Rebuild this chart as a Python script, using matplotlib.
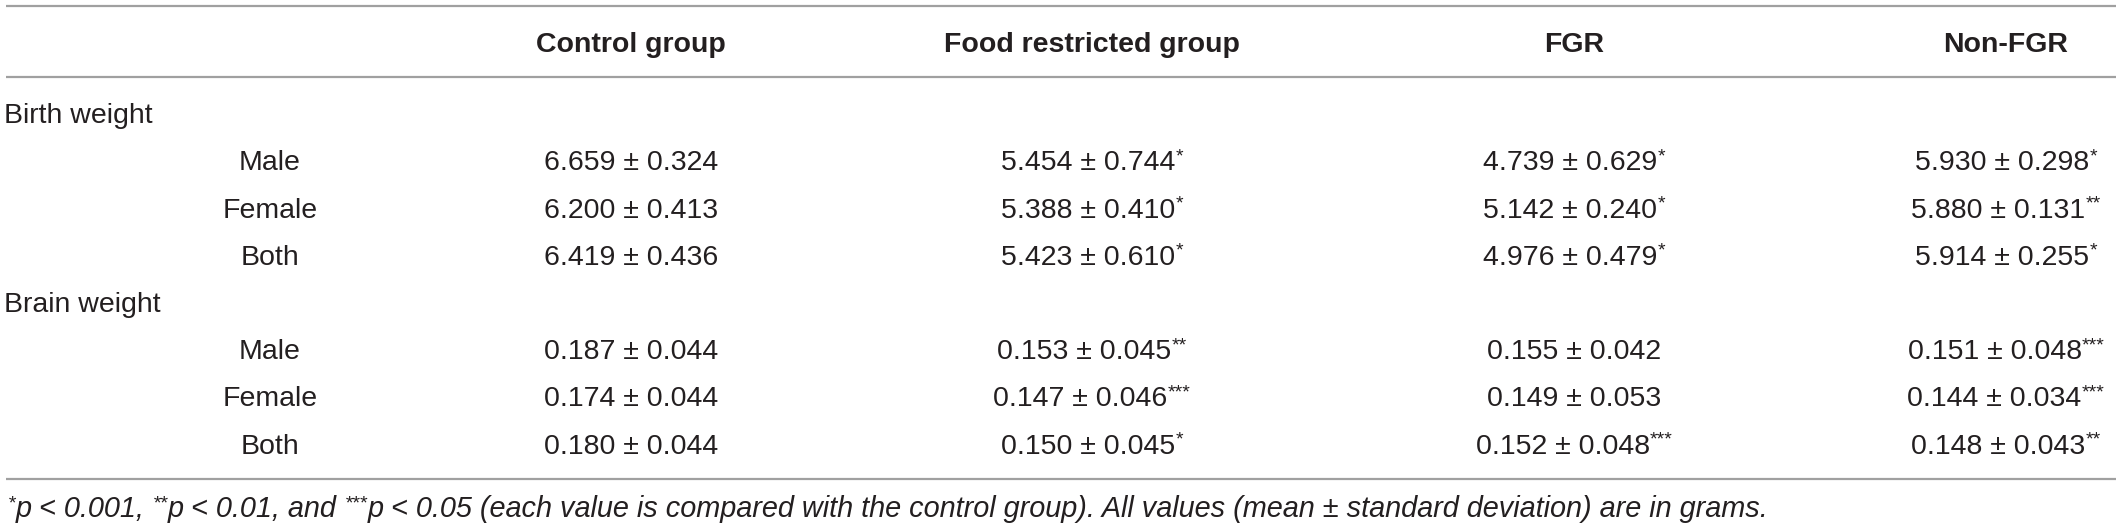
import matplotlib
matplotlib.use("Agg")
import matplotlib.pyplot as plt

plt.rcParams['font.family'] = ['Liberation Sans', 'DejaVu Sans']

# ---- data ----
columns = ["Control group", "Food restricted group", "FGR", "Non-FGR"]
sections = ["Birth weight", "Brain weight"]
sexes = ["Male", "Female", "Both"]

birth_control_mean = [6.659, 6.200, 6.419]
birth_control_sd = [0.324, 0.413, 0.436]
birth_control_sig = ["", "", ""]
birth_food_mean = [5.454, 5.388, 5.423]
birth_food_sd = [0.744, 0.410, 0.610]
birth_food_sig = ["*", "*", "*"]
birth_fgr_mean = [4.739, 5.142, 4.976]
birth_fgr_sd = [0.629, 0.240, 0.479]
birth_fgr_sig = ["*", "*", "*"]
birth_nonfgr_mean = [5.930, 5.880, 5.914]
birth_nonfgr_sd = [0.298, 0.131, 0.255]
birth_nonfgr_sig = ["*", "**", "*"]

brain_control_mean = [0.187, 0.174, 0.180]
brain_control_sd = [0.044, 0.044, 0.044]
brain_control_sig = ["", "", ""]
brain_food_mean = [0.153, 0.147, 0.150]
brain_food_sd = [0.045, 0.046, 0.045]
brain_food_sig = ["**", "***", "*"]
brain_fgr_mean = [0.155, 0.149, 0.152]
brain_fgr_sd = [0.042, 0.053, 0.048]
brain_fgr_sig = ["", "", "***"]
brain_nonfgr_mean = [0.151, 0.144, 0.148]
brain_nonfgr_sd = [0.048, 0.034, 0.043]
brain_nonfgr_sig = ["***", "***", "**"]

# footnote pieces: (text, is_superscript)
footnote_parts = [
    ("*", True), ("p < 0.001, ", False),
    ("**", True), ("p < 0.01, and ", False),
    ("***", True), ("p < 0.05 (each value is compared with the control group). "
                    "All values (mean \u00b1 standard deviation) are in grams.", False),
]

section_data = [
    [(birth_control_mean, birth_control_sd, birth_control_sig),
     (birth_food_mean, birth_food_sd, birth_food_sig),
     (birth_fgr_mean, birth_fgr_sd, birth_fgr_sig),
     (birth_nonfgr_mean, birth_nonfgr_sd, birth_nonfgr_sig)],
    [(brain_control_mean, brain_control_sd, brain_control_sig),
     (brain_food_mean, brain_food_sd, brain_food_sig),
     (brain_fgr_mean, brain_fgr_sd, brain_fgr_sig),
     (brain_nonfgr_mean, brain_nonfgr_sd, brain_nonfgr_sig)],
]

# ---- layout ----
W, H = 2119, 528
fig = plt.figure(figsize=(W / 100, H / 100), dpi=100)
ax = fig.add_axes([0, 0, 1, 1])
ax.set_xlim(0, W)
ax.set_ylim(H, 0)
ax.axis('off')
renderer = fig.canvas.get_renderer()

txt_color = '#231f20'
line_color = '#a0a0a0'
fs = 20.5
foot_fs = 20.8
sup_fs = 14.0
cap_half = fs * 100 / 72 * 0.716 / 2   # half cap height in px
sup_raise = 9.0

col_x = [631, 1092, 1574, 2006]
sub_x = 270
left_x = 4
header_y = 42
row_y0 = 113
row_step = 47.2


def width_of(t):
    return t.get_window_extent(renderer).width


def label(x, yc, s, ha='center', weight='normal'):
    ax.text(x, yc + cap_half, s, ha=ha, va='baseline', fontsize=fs,
            fontweight=weight, color=txt_color)


def draw_with_sup(cx, yc, main, sup):
    base = yc + cap_half
    t1 = ax.text(0, base, main, ha='left', va='baseline', fontsize=fs,
                 color=txt_color)
    w1 = width_of(t1)
    w2 = 0
    t2 = None
    if sup:
        t2 = ax.text(0, base - sup_raise, sup, ha='left', va='baseline',
                     fontsize=sup_fs, color=txt_color)
        w2 = width_of(t2)
    x0 = cx - (w1 + w2) / 2
    t1.set_x(x0)
    if t2 is not None:
        t2.set_x(x0 + w1)


ax.hlines([5.5, 77, 479], 6, 2116, colors=line_color, linewidth=1.6)

for cx, name in zip(col_x, columns):
    label(cx, header_y, name, weight='bold')

r = 0
for sec, data in zip(sections, section_data):
    y = row_y0 + r * row_step
    label(left_x, y, sec, ha='left')
    r += 1
    for i, sx in enumerate(sexes):
        y = row_y0 + r * row_step
        label(sub_x, y, sx)
        for cx, (means, sds, sigs) in zip(col_x, data):
            s = f"{means[i]:.3f} \u00b1 {sds[i]:.3f}"
            draw_with_sup(cx, y, s, sigs[i])
        r += 1

# footnote laid out piece by piece
fx = 8
fbase = 507 + cap_half
for text, is_sup in footnote_parts:
    if is_sup:
        t = ax.text(fx, fbase - sup_raise, text, ha='left', va='baseline',
                    fontsize=sup_fs, style='italic', color=txt_color)
    else:
        t = ax.text(fx, fbase, text, ha='left', va='baseline',
                    fontsize=foot_fs, style='italic', color=txt_color)
    fx += width_of(t)

fig.savefig('out.png', dpi=100)
